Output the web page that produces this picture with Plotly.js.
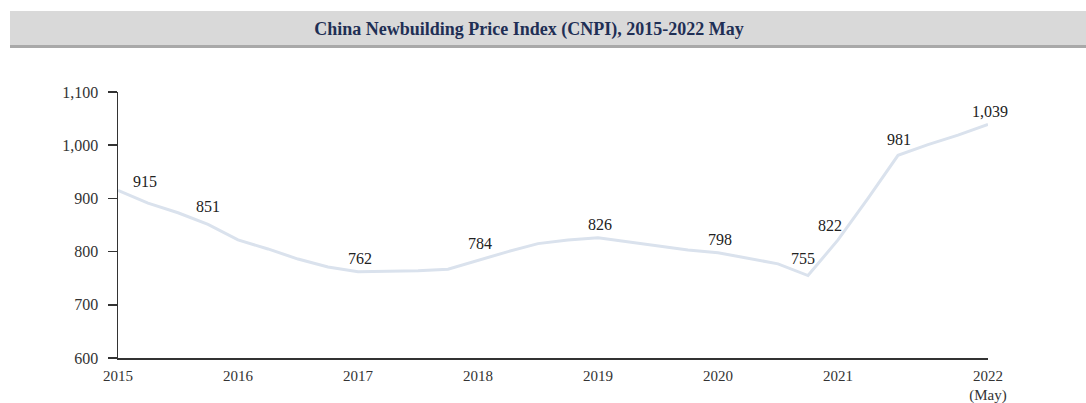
<!DOCTYPE html>
<html>
<head>
<meta charset="utf-8">
<script src="https://cdn.plot.ly/plotly-3.0.1.min.js"></script>
<style>
  html, body { margin: 0; padding: 0; background: #fff; }
  #cnpiChart { width: 1086px; height: 403px; }
</style>
</head>
<body>
<div id="cnpiChart"></div>
<script>
// quarterly CNPI readings, 2015 Q1 to 2022 May
var periods = [
  "2015Q1", "2015Q2", "2015Q3", "2015Q4",
  "2016Q1", "2016Q2", "2016Q3", "2016Q4",
  "2017Q1", "2017Q2", "2017Q3", "2017Q4",
  "2018Q1", "2018Q2", "2018Q3", "2018Q4",
  "2019Q1", "2019Q2", "2019Q3", "2019Q4",
  "2020Q1", "2020Q2", "2020Q3", "2020Q4",
  "2021Q1", "2021Q2", "2021Q3", "2021Q4",
  "2022Q1", "2022May"
];
var cnpi = [
  915, 891, 873, 851,
  822, 805, 786, 771,
  762, 763, 764, 767,
  784, 800, 815, 822,
  826, 818, 810, 803,
  798, 787, 777, 755,
  822, 900, 981, 1001,
  1019, 1039
];

// which points get a value label
var labelledPeriods = ["2015Q1", "2015Q4", "2017Q1", "2018Q1", "2019Q1",
                       "2020Q1", "2020Q4", "2021Q1", "2021Q3", "2022May"];

// x axis labels
var tickPeriods = ["2015Q1", "2016Q1", "2017Q1", "2018Q1", "2019Q1",
                   "2020Q1", "2021Q1", "2022May"];
var tickLabels = ["2015", "2016", "2017", "2018", "2019", "2020", "2021", "2022<br>(May)"];

var W = 1086, H = 403;
var margin = { l: 118, r: 98, t: 92, b: 45, pad: 0 };
var plotW = W - margin.l - margin.r;
var plotH = H - margin.t - margin.b;
function px2x(px) { return (px - margin.l) / plotW; }
function px2y(py) { return (H - margin.b - py) / plotH; }

var serif = "Liberation Serif, Times New Roman, serif";

// nudges for the value labels (pixels), default is straight above
var labelShift = {
  "2015Q1": [27, 9],
  "2015Q4": [0, 18],
  "2018Q1": [2, 17],
  "2020Q4": [-5, 17],
  "2021Q1": [-8, 14],
  "2021Q3": [1, 16]
};

var annotations = labelledPeriods.map(function (p) {
  var i = periods.indexOf(p);
  var s = labelShift[p] || [2, 13];
  return {
    x: p,
    y: cnpi[i],
    xref: "x",
    yref: "y",
    text: cnpi[i].toLocaleString("en-US"),
    showarrow: false,
    xanchor: "center",
    yanchor: "middle",
    xshift: s[0],
    yshift: s[1],
    font: { family: serif, size: 16, color: "#222" }
  };
});

var line = {
  x: periods,
  y: cnpi,
  type: "scatter",
  mode: "lines",
  line: { color: "#dae2ed", width: 3 },
  hoverinfo: "x+y",
  showlegend: false
};

var layout = {
  width: W,
  height: H,
  margin: margin,
  paper_bgcolor: "#fff",
  plot_bgcolor: "#fff",
  font: { family: serif, size: 16, color: "#222" },
  title: {
    text: "<b>China Newbuilding Price Index (CNPI), 2015-2022 May</b>",
    font: { family: serif, size: 18, color: "#1f2f55" },
    xref: "container",
    yref: "container",
    x: 529 / W,
    y: 1 - 29 / H,
    xanchor: "center",
    yanchor: "middle"
  },
  xaxis: {
    type: "category",
    range: [0, periods.length - 1],
    tickmode: "array",
    tickvals: tickPeriods,
    ticktext: tickLabels,
    ticks: "outside",
    ticklen: 3,
    tickcolor: "rgba(0,0,0,0)",
    showgrid: false,
    zeroline: false,
    showline: true,
    linecolor: "#333",
    linewidth: 1.5,
    tickfont: { family: serif, size: 15, color: "#333" },
    fixedrange: true
  },
  yaxis: {
    range: [600, 1100],
    tickvals: [600, 700, 800, 900, 1000, 1100],
    tickformat: ",d",
    ticks: "outside",
    ticklen: 9,
    tickwidth: 1.5,
    tickcolor: "#333",
    ticklabelstandoff: 6,
    showgrid: false,
    zeroline: false,
    showline: true,
    linecolor: "#333",
    linewidth: 1.5,
    tickfont: { family: serif, size: 16, color: "#333" },
    fixedrange: true
  },
  annotations: annotations,
  shapes: [
    {
      type: "rect", layer: "below",
      xref: "paper", yref: "paper",
      x0: px2x(10), x1: px2x(W + 2), y0: px2y(48), y1: px2y(45),
      fillcolor: "#a9a9a9", line: { width: 0 }
    },
    {
      type: "rect", layer: "below",
      xref: "paper", yref: "paper",
      x0: px2x(10), x1: px2x(W + 2), y0: px2y(45), y1: px2y(11),
      fillcolor: "#d9d9d9", line: { width: 0 }
    }
  ]
};

var config = { responsive: false, displayModeBar: false, staticPlot: true };
Plotly.newPlot("cnpiChart", [line], layout, config);
</script>
</body>
</html>
